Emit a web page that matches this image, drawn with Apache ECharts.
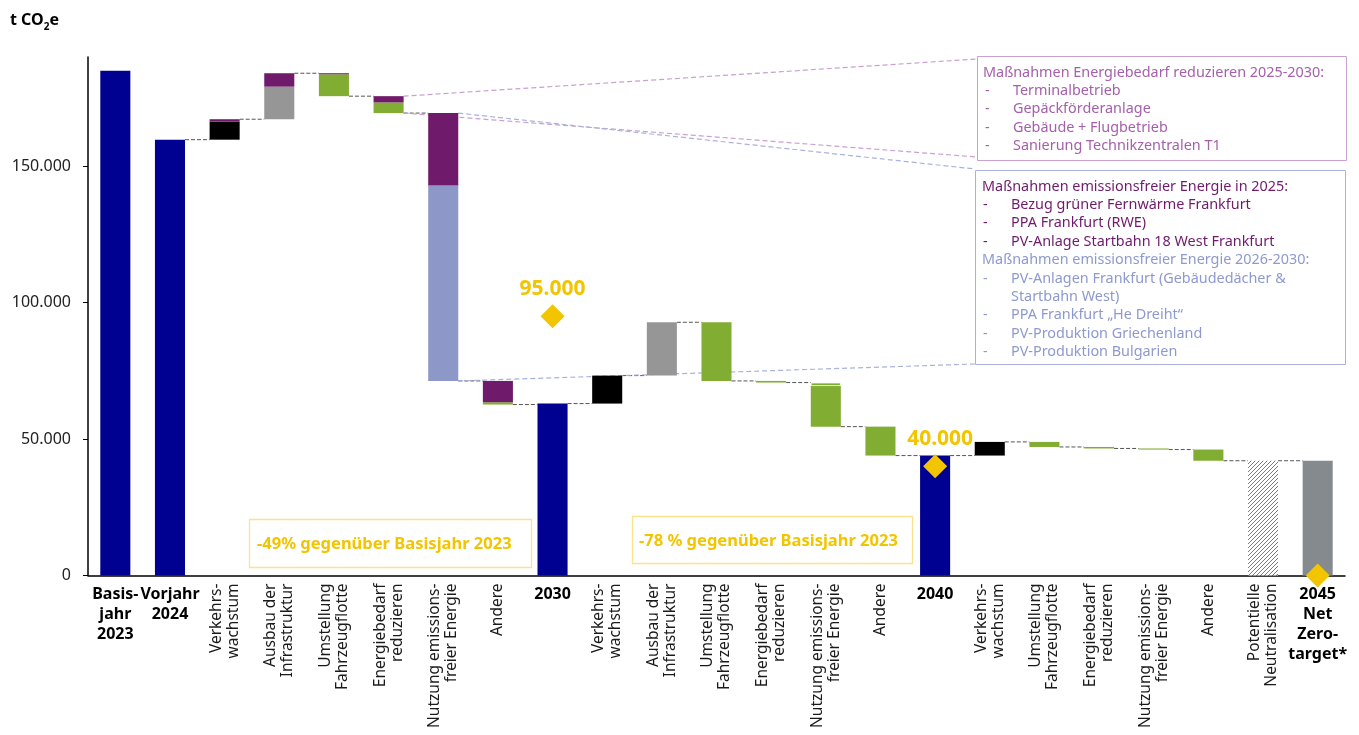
<!DOCTYPE html>
<html><head><meta charset="utf-8">
<script src="https://cdn.jsdelivr.net/npm/echarts@6/dist/echarts.min.js"></script>
<style>html,body{margin:0;padding:0;background:#fff}#c{width:1359px;height:735px}</style>
</head><body><div id="c"></div>
<script>
// ---------- data ----------
const rotatedLabels = ['', '', 'Verkehrs-\nwachstum', 'Ausbau der\nInfrastruktur', 'Umstellung\nFahrzeugflotte', 'Energiebedarf\nreduzieren', 'Nutzung emissions-\nfreier Energie', 'Andere', '',
  'Verkehrs-\nwachstum', 'Ausbau der\nInfrastruktur', 'Umstellung\nFahrzeugflotte', 'Energiebedarf\nreduzieren', 'Nutzung emissions-\nfreier Energie', 'Andere', '',
  'Verkehrs-\nwachstum', 'Umstellung\nFahrzeugflotte', 'Energiebedarf\nreduzieren', 'Nutzung emissions-\nfreier Energie', 'Andere', 'Potentielle\nNeutralisation', ''];
const yearLabels = ['Basis-\njahr\n2023', 'Vorjahr\n2024', '', '', '', '', '', '', '2030', '', '', '', '', '', '', '2040', '', '', '', '', '', '', '2045\nNet\nZero-\ntarget*'];
const stepKind = ['total','total','up','up','down','down','down','down','total','up','up','down','down','down','down','total','up','down','down','down','down','total','total'];
// [category index, t CO2e]
const totalsBlue = [[0, 185000], [1, 159700], [8, 63000], [15, 43950]];
const neutralisation = [[21, 42050]];
const netZero = [[22, 42050]];
const traffic = [[2, 6600], [9, 10250], [16, 5000]];
const infrastructure = [[3, 11950], [10, 19550]];
const lightBlue = [[6, 71650]];
const greenMain = [[4, 8000], [5, 3900], [7, 850], [11, 21500], [12, 600], [13, 14850], [14, 10600], [17, 1850], [18, 550], [19, 400], [20, 4100]];
const greenTop = [[13, 1300]];
const purple = [[2, 900], [3, 4900], [4, 400], [5, 2300], [6, 26500], [7, 7800]];
const targets = [[8, 95000], [15, 40000], [22, 0]];
const targetLabels = ['95.000', '40.000', ''];
const yTicks = [0, 50000, 100000, 150000];

// ---------- build ----------
const N = rotatedLabels.length;
const FONT = '"Noto Sans", "Open Sans", sans-serif';
function fill(pairs) { const a = new Array(N).fill('-'); pairs.forEach(([i, v]) => a[i] = v); return a; }
const seg = new Array(N).fill(0);
[traffic, infrastructure, lightBlue, greenMain, greenTop, purple].forEach(l => l.forEach(([i, v]) => seg[i] += v));
const totalsAll = {};
[totalsBlue, neutralisation, netZero].forEach(l => l.forEach(([i, v]) => totalsAll[i] = v));
let level = 0; const base = [], after = [];
for (let i = 0; i < N; i++) {
  if (stepKind[i] === 'total') { base.push('-'); level = totalsAll[i]; }
  else if (stepKind[i] === 'up') { base.push(level); level += seg[i]; }
  else { level -= seg[i]; base.push(level); }
  after.push(level);
}
const connData = [];
for (let i = 1; i < N - 1; i++) connData.push([i, after[i]]);

const pc = document.createElement('canvas'); pc.width = 4; pc.height = 4;
const g = pc.getContext('2d'); g.fillStyle = '#fff'; g.fillRect(0, 0, 4, 4);
g.strokeStyle = '#7a7a7a'; g.lineWidth = 1; g.beginPath();
g.moveTo(-1, 1); g.lineTo(1, -1); g.moveTo(0, 4); g.lineTo(4, 0); g.moveTo(3, 5); g.lineTo(5, 3); g.stroke();

const BW = '55%';
function barSeries(name, data, color, extra) {
  return Object.assign({ name, type: 'bar', stack: 'wf', barWidth: BW, data: data, silent: true,
    itemStyle: { color: color, borderWidth: 0 } }, extra || {});
}
const fmt = v => String(v).replace(/\B(?=(\d{3})+(?!\d))/g, '.');

const chart = echarts.init(document.getElementById('c'), null, { renderer: 'canvas' });
chart.setOption({
  animation: false,
  grid: { left: 88, right: 14, top: 57, bottom: 159.5, containLabel: false, outerBoundsMode: 'none' },
  xAxis: [
    { type: 'category', data: rotatedLabels, position: 'bottom',
      axisLine: { show: true, lineStyle: { color: '#000', width: 1.5 } }, axisTick: { show: false },
      axisLabel: { interval: 0, rotate: 90, fontSize: 15.5, lineHeight: 17, color: '#1a1a1a', fontFamily: FONT, margin: 8, hideOverlap: false },
      splitLine: { show: false } },
    { type: 'category', data: yearLabels, position: 'bottom', offset: 0,
      axisLine: { show: false }, axisTick: { show: false },
      axisLabel: { interval: 0, fontSize: 16, fontWeight: 'bold', lineHeight: 20, color: '#000', fontFamily: FONT, margin: 9, hideOverlap: false },
      splitLine: { show: false } }
  ],
  yAxis: { type: 'value', min: 0, max: 190000, interval: 50000,
    axisLine: { show: true, lineStyle: { color: '#000', width: 1.5 } },
    axisTick: { show: true, length: 5, lineStyle: { color: '#000' }, customValues: yTicks },
    axisLabel: { customValues: yTicks, formatter: fmt, fontSize: 16, color: '#222', fontFamily: FONT, margin: 17 },
    splitLine: { show: false } },
  series: [
    { type: 'bar', stack: 'wf', barWidth: BW, data: base, silent: true, itemStyle: { color: 'transparent', borderWidth: 0 } },
    barSeries('total', fill(totalsBlue), '#000091'),
    barSeries('neutral', fill(neutralisation), { image: pc, repeat: 'repeat' }),
    barSeries('netzero', fill(netZero), '#858a8f'),
    barSeries('traffic', fill(traffic), '#000000'),
    barSeries('infra', fill(infrastructure), '#969696'),
    barSeries('lightblue', fill(lightBlue), '#8d97c8'),
    barSeries('green', fill(greenMain), '#82ad33'),
    barSeries('greenTop', fill(greenTop), '#82ad33', { itemStyle: { color: '#82ad33', borderColor: 'rgba(255,255,255,0.6)', borderWidth: 1 } }),
    barSeries('purple', fill(purple), '#701a6c'),
    { type: 'custom', xAxisIndex: 0, yAxisIndex: 0, data: connData, silent: true, z: 1,
      renderItem(params, api) {
        const p = api.coord([api.value(0), api.value(1)]);
        const band = api.size([1, 0])[0];
        const half = band * 0.55 / 2;
        return { type: 'line', shape: { x1: p[0] + half, y1: p[1], x2: p[0] + band - half, y2: p[1] },
          style: { stroke: '#555', lineWidth: 1, lineDash: [4, 2] } };
      } },
    { type: 'scatter', symbol: 'diamond', symbolSize: [24, 24], z: 6, silent: true,
      itemStyle: { color: '#f2c500', opacity: 1 },
      label: { show: true, position: 'top', distance: 5, color: '#f2c500', fontWeight: 'bold', fontSize: 21, fontFamily: FONT },
      data: targets.map(([i, v], k) => ({ value: [i, v],
        label: { show: !!targetLabels[k], formatter: targetLabels[k], offset: k === 1 ? [5, 0] : [0, 0] } })) }
  ]
});

// ---------- annotations ----------
const band = chart.convertToPixel({ xAxisIndex: 0 }, 1) - chart.convertToPixel({ xAxisIndex: 0 }, 0);
const halfW = band * 0.55 / 2;
const eTop = chart.convertToPixel({ xAxisIndex: 0, yAxisIndex: 0 }, [5, after[4]]);
const eBot = chart.convertToPixel({ xAxisIndex: 0, yAxisIndex: 0 }, [5, after[5]]);
const nTop = chart.convertToPixel({ xAxisIndex: 0, yAxisIndex: 0 }, [6, after[5]]);
const nBot = chart.convertToPixel({ xAxisIndex: 0, yAxisIndex: 0 }, [6, after[6]]);
function dline(x1, y1, x2, y2, c) {
  return { type: 'line', silent: true, z: 2, shape: { x1, y1, x2, y2 }, style: { stroke: c, lineWidth: 1.2, lineDash: [5, 3] } };
}
function txt(x, y, text, color, size, weight) {
  return { type: 'text', x, y, silent: true, z: 10,
    style: { text, fill: color, font: (weight || 'normal') + ' ' + (size || 14.4) + 'px ' + FONT, verticalAlign: 'middle', align: 'left' } };
}
function rect(x, y, w, h, c, lw) {
  return { type: 'rect', silent: true, z: 9, shape: { x, y, width: w, height: h }, style: { fill: '#fff', stroke: c, lineWidth: lw || 1 } };
}
const pink = '#c9a1cf', pinkText = '#a560ab', blueLine = '#aab2dc', blueText = '#8e99cf', darkP = '#701a6c';
const g1 = [
  rect(977.5, 56.5, 369, 104, pink),
  txt(983, 72.5, 'Maßnahmen Energiebedarf reduzieren 2025-2030:', pinkText),
];
['Terminalbetrieb', 'Gepäckförderanlage', 'Gebäude + Flugbetrieb', 'Sanierung Technikzentralen T1'].forEach((t, k) => {
  const y = 91 + k * 18.4; g1.push(txt(985, y, '-', pinkText)); g1.push(txt(1013, y, t, pinkText));
});
const g2 = [rect(975.5, 170.5, 370, 194, blueLine), txt(982, 186.7, 'Maßnahmen emissionsfreier Energie in 2025:', darkP)];
['Bezug grüner Fernwärme Frankfurt', 'PPA Frankfurt (RWE)', 'PV-Anlage Startbahn 18 West Frankfurt'].forEach((t, k) => {
  const y = 205 + k * 18.4; g2.push(txt(983, y, '-', darkP)); g2.push(txt(1011, y, t, darkP));
});
g2.push(txt(982, 260.2, 'Maßnahmen emissionsfreier Energie 2026-2030:', blueText));
[['-', 'PV-Anlagen Frankfurt (Gebäudedächer &'], ['', 'Startbahn West)'], ['-', 'PPA Frankfurt „He Dreiht“'], ['-', 'PV-Produktion Griechenland'], ['-', 'PV-Produktion Bulgarien']].forEach(([d, t], k) => {
  const y = 278.6 + k * 18.4; if (d) g2.push(txt(983, y, d, blueText)); g2.push(txt(1011, y, t, blueText));
});
const graphics = [
  { type: 'text', x: 10, y: 20, silent: true,
    style: { text: '{a|t CO}{s|2}{a|e}', verticalAlign: 'middle',
      rich: { a: { fontSize: 16, fontWeight: 'bold', fontFamily: FONT, fill: '#000', lineHeight: 18 },
              s: { fontSize: 10, fontWeight: 'bold', fontFamily: FONT, fill: '#000', verticalAlign: 'bottom', lineHeight: 10, padding: [0, 0, -3, 0] } } } },
  rect(249.5, 519.5, 282, 48, '#fbe38e', 1.3), txt(257, 544, '-49% gegenüber Basisjahr 2023', '#f2c500', 16.5, 'bold'),
  rect(632.5, 516.5, 280, 47, '#fbe38e', 1.3), txt(639, 541.5, '-78 % gegenüber Basisjahr 2023', '#f2c500', 16.5, 'bold'),
  dline(eTop[0] + halfW, eTop[1], 977, 59, pink),
  dline(eBot[0] + halfW, eBot[1], 977, 157, pink),
  dline(nTop[0] + halfW, nTop[1], 975, 169, blueLine),
  dline(nBot[0] + halfW, nBot[1], 975, 364, blueLine),
].concat(g1, g2);
chart.setOption({ graphic: graphics });
</script></body></html>
